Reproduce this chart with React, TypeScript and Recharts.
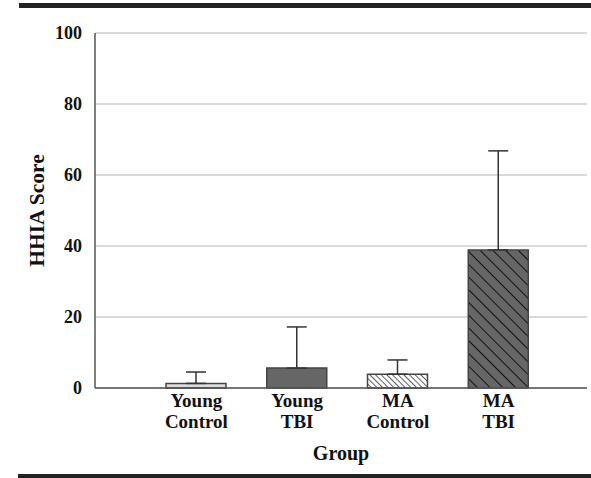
import { Bar, BarChart, CartesianGrid, Cell, ErrorBar, XAxis, YAxis } from "recharts";

const groups = ["Young Control", "Young TBI", "MA Control", "MA TBI"];
const means = [1.3, 5.6, 3.9, 38.9];
const sds = [3.2, 11.6, 4.0, 27.9];
const yTicks = [0, 20, 40, 60, 80, 100];

const FILLS = ["#dcdcdc", "#666666", "url(#hatchLight)", "url(#hatchDark)"];
const FONT = '"Liberation Serif", "Times New Roman", serif';

const data = groups.map((g, i) => ({
  group: g,
  mean: means[i],
  err: [0, sds[i]],
}));

function GroupTick({ x, y, payload }: any) {
  const lines = String(payload.value).split(" ");
  return (
    <text x={x} y={y} textAnchor="middle" fontFamily={FONT} fontWeight="bold" fontSize={19} fill="#111">
      {lines.map((l, i) => (
        <tspan key={l} x={x} dy={i === 0 ? 11 : 21}>
          {l}
        </tspan>
      ))}
    </text>
  );
}

export default function App() {
  return (
    <div style={{ position: "absolute", left: 0, top: 0, width: 591, height: 478, background: "#fff" }}>
      <div style={{ position: "absolute", left: 19, top: 3, width: 572, height: 5, background: "#222" }} />
      <div style={{ position: "absolute", left: 18, top: 474, width: 573, height: 4, background: "#222" }} />
      <BarChart
        width={591}
        height={478}
        data={data}
        margin={{ top: 33, right: 4, left: 0, bottom: 0 }}
        barSize={60}
      >
        <defs>
          <pattern id="hatchLight" width="4" height="4" patternUnits="userSpaceOnUse" patternTransform="rotate(-45)">
            <rect width="4" height="4" fill="#fff" />
            <line x1="0" y1="0" x2="0" y2="4" stroke="#444" strokeWidth="1.7" />
          </pattern>
          <pattern id="hatchDark" width="9" height="9" patternUnits="userSpaceOnUse" patternTransform="rotate(-45)">
            <rect width="9" height="9" fill="#666" />
            <line x1="0" y1="0" x2="0" y2="9" stroke="#111" strokeWidth="2" />
          </pattern>
        </defs>
        <CartesianGrid vertical={false} stroke="#cccccc" strokeWidth={1.5} />
        <XAxis
          xAxisId="top"
          orientation="top"
          dataKey="group"
          height={0}
          tick={false}
          tickLine={false}
          axisLine={{ stroke: "#777", strokeWidth: 1.5 }}
        />
        <XAxis
          dataKey="group"
          height={90}
          axisLine={{ stroke: "#555", strokeWidth: 1.5 }}
          tickLine={false}
          padding={{ left: 51, right: 38 }}
          tick={<GroupTick />}
          interval={0}
          label={{
            value: "Group",
            position: "insideBottom",
            offset: 18,
            fill: "#111",
            style: { fontFamily: FONT, fontWeight: "bold", fontSize: 20, fill: "#111" },
          }}
        />
        <YAxis
          width={95}
          domain={[0, 100]}
          ticks={yTicks}
          axisLine={{ stroke: "#555", strokeWidth: 1.5 }}
          tickLine={false}
          tickMargin={7}
          tick={{ fontFamily: FONT, fontWeight: "bold", fontSize: 18, fill: "#111" }}
          label={{
            value: "HHIA Score",
            angle: -90,
            position: "insideLeft",
            offset: 36,
            fill: "#111",
            style: { fontFamily: FONT, fontWeight: "bold", fontSize: 21.5, fill: "#111", textAnchor: "middle" },
          }}
        />
        <Bar dataKey="mean" stroke="#444" strokeWidth={1.5} isAnimationActive={false}>
          {data.map((d, i) => (
            <Cell key={d.group} fill={FILLS[i]} />
          ))}
          <ErrorBar dataKey="err" width={10} stroke="#333" strokeWidth={1.5} />
        </Bar>
      </BarChart>
    </div>
  );
}
